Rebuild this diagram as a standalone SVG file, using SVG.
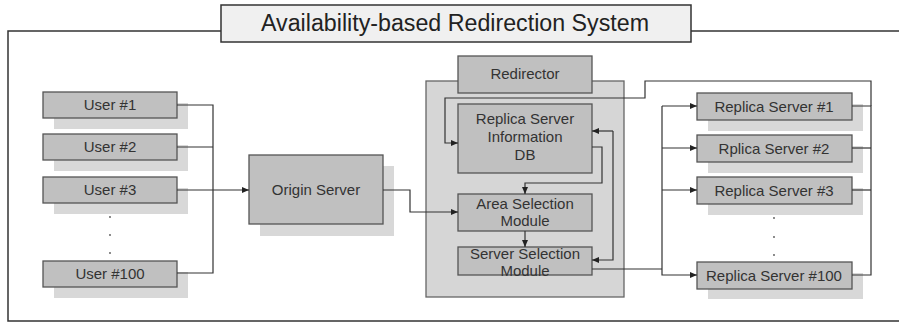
<svg xmlns="http://www.w3.org/2000/svg" width="899" height="324" viewBox="0 0 899 324">
<defs>
<marker id="ah" markerWidth="8" markerHeight="8" refX="7" refY="4" orient="auto" markerUnits="userSpaceOnUse">
<path d="M0,1 L7,4 L0,7 Z" fill="#222"/>
</marker>
<style>
.box{fill:#c0c0c0;stroke:#555;stroke-width:1.3}
.sh{fill:#d8d8d8}
.t{font-family:"Liberation Sans",Arial,sans-serif;font-size:15px;fill:#333;text-anchor:middle}
.ln{fill:none;stroke:#333;stroke-width:1.2}
.dot{fill:#555}
</style>
</defs>
<rect width="899" height="324" fill="#fff"/>
<g id="frame">
<path d="M221,31 H8 V321 H899" fill="none" stroke="#333" stroke-width="1.5"/>
<path d="M691,31 H899" fill="none" stroke="#333" stroke-width="1.5"/>
</g>
<g id="title">
<rect x="221" y="5" width="470" height="37" fill="#f0f0f0" stroke="#333" stroke-width="1.5"/>
<text x="455" y="31" textLength="388" lengthAdjust="spacingAndGlyphs" style="font-family:'Liberation Sans',Arial,sans-serif;font-size:23px;fill:#222;text-anchor:middle">Availability-based Redirection System</text>
</g>
<g id="users">
<g id="user1"><rect class="sh" x="54" y="103" width="134" height="26"/><rect class="box" x="43" y="92" width="134" height="26"/><text class="t" x="110" y="110">User #1</text></g>
<g id="user2"><rect class="sh" x="54" y="145" width="134" height="26"/><rect class="box" x="43" y="134" width="134" height="26"/><text class="t" x="110" y="152">User #2</text></g>
<g id="user3"><rect class="sh" x="54" y="188" width="134" height="26"/><rect class="box" x="43" y="177" width="134" height="26"/><text class="t" x="110" y="195">User #3</text></g>
<g id="user100"><rect class="sh" x="54" y="272" width="134" height="26"/><rect class="box" x="43" y="261" width="134" height="26"/><text class="t" x="110" y="279">User #100</text></g>
<circle class="dot" cx="110" cy="217" r="0.9"/><circle class="dot" cx="110" cy="235" r="0.9"/><circle class="dot" cx="110" cy="253" r="0.9"/>
</g>
<g id="origin">
<rect class="sh" x="260" y="166" width="134" height="70"/>
<rect class="box" x="249" y="155" width="134" height="69"/>
<text class="t" x="316" y="195">Origin Server</text>
</g>
<g id="redirector">
<rect x="426" y="81" width="198" height="216" fill="#d6d6d6" stroke="#666" stroke-width="1.3"/>
<rect class="box" x="458" y="56" width="134" height="37"/>
<text class="t" x="525" y="79">Redirector</text>
</g>
<g id="db">
<rect class="box" x="458" y="104" width="134" height="69"/>
<text class="t" x="525" y="124">Replica Server</text>
<text class="t" x="525" y="142">Information</text>
<text class="t" x="525" y="160">DB</text>
</g>
<g id="area">
<rect class="box" x="458" y="194" width="134" height="37"/>
<text class="t" x="525" y="209">Area Selection</text>
<text class="t" x="525" y="226">Module</text>
</g>
<g id="server">
<rect class="box" x="458" y="247" width="134" height="28"/>
<text class="t" x="525" y="259">Server Selection</text>
<text class="t" x="525" y="276">Module</text>
</g>
<g id="replicas">
<g id="rep1"><rect class="sh" x="708" y="104" width="155" height="27"/><rect class="box" x="697" y="93" width="155" height="27"/><text class="t" x="774" y="112">Replica Server #1</text></g>
<g id="rep2"><rect class="sh" x="708" y="146" width="155" height="27"/><rect class="box" x="697" y="135" width="155" height="27"/><text class="t" x="774" y="154">Rplica Server #2</text></g>
<g id="rep3"><rect class="sh" x="708" y="188" width="155" height="27"/><rect class="box" x="697" y="177" width="155" height="27"/><text class="t" x="774" y="196">Replica Server #3</text></g>
<g id="rep100"><rect class="sh" x="708" y="273" width="155" height="26"/><rect class="box" x="697" y="262" width="155" height="27"/><text class="t" x="774" y="281">Replica Server #100</text></g>
<circle class="dot" cx="774" cy="218" r="0.9"/><circle class="dot" cx="774" cy="237" r="0.9"/><circle class="dot" cx="774" cy="255" r="0.9"/>
</g>
<g id="connectors">
<path class="ln" d="M177,105 H213 V273 H177"/>
<path class="ln" d="M177,147 H213"/>
<path class="ln" d="M177,190 H249" marker-end="url(#ah)"/>
<path class="ln" d="M383,190 H410 V212 H458" marker-end="url(#ah)"/>
<path class="ln" d="M852,106 H871 V275 H852"/>
<path class="ln" d="M852,148 H871"/>
<path class="ln" d="M852,190 H871"/>
<path class="ln" d="M871,106 V81 H645 V98 H445 V143 H458" marker-end="url(#ah)"/>
<path class="ln" d="M592,147 H602 V183 H525 V194" marker-end="url(#ah)"/>
<path class="ln" d="M525,231 V247" marker-end="url(#ah)"/>
<path class="ln" d="M613,131 V260 H592" marker-end="url(#ah)"/>
<path class="ln" d="M613,131 H592" marker-end="url(#ah)"/>
<path class="ln" d="M592,269 H662"/>
<path class="ln" d="M662,106 V275 H697" marker-end="url(#ah)"/>
<path class="ln" d="M662,106 H697" marker-end="url(#ah)"/>
<path class="ln" d="M662,148 H697" marker-end="url(#ah)"/>
<path class="ln" d="M662,190 H697" marker-end="url(#ah)"/>
</g>
</svg>
